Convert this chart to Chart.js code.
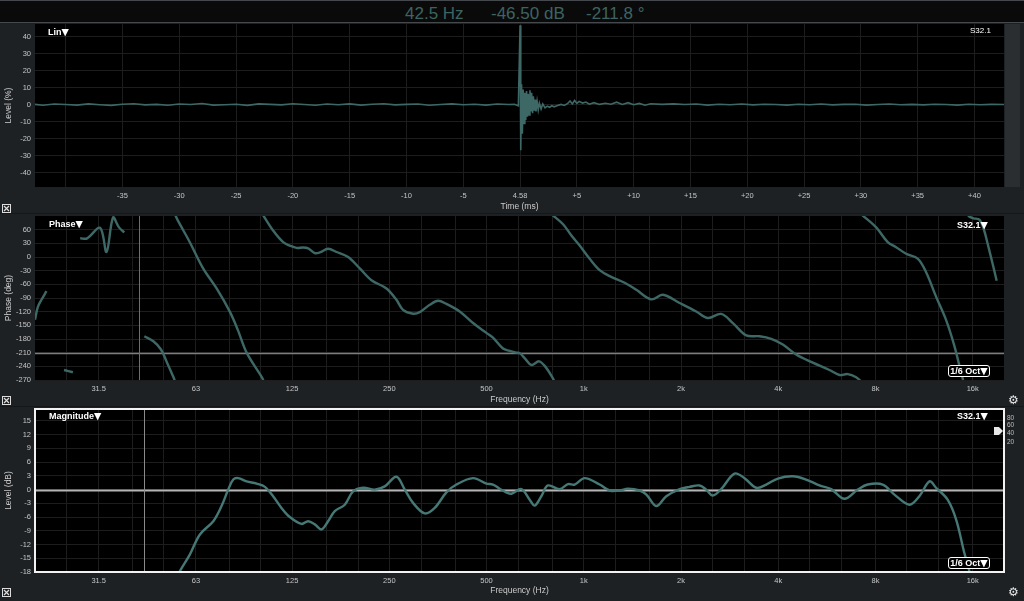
<!DOCTYPE html>
<html>
<head>
<meta charset="utf-8">
<title>Impulse / Phase / Magnitude</title>
<script src="https://cdn.jsdelivr.net/npm/chart.js@4.4.1/dist/chart.umd.min.js"></script>
<style>
    html, body { margin: 0; padding: 0; }
    body {
        width: 1024px; height: 601px; position: relative; overflow: hidden;
        background: #1e2124;
        font-family: "Liberation Sans", Arial, sans-serif;
    }
    canvas { position: absolute; left: 0; display: block; }
    #readout {
        position: absolute; left: 0; top: 0; width: 1024px; height: 23px; box-sizing: border-box;
        background: #0a0a0a; border-top: 1px solid #45494d; border-bottom: 1px solid #45494d;
    }
    .ro { position: absolute; top: 2px; font-size: 17px; line-height: 22px; color: #3d6462; white-space: nowrap; }
    .sep { position: absolute; left: 0; width: 1024px; height: 1px; background: #141618; }
    .tag { position: absolute; color: #fff; font-size: 9px; font-weight: bold; line-height: 10px; white-space: nowrap; }
    .tag.thin { font-weight: normal; font-size: 8px; }
    .tri { font-family: "DejaVu Sans", sans-serif; font-size: 9.5px; font-weight: normal; }
    .oct {
        position: absolute; width: 40px; height: 10px; box-sizing: content-box;
        border: 1.5px solid #fff; border-radius: 3px; background: #000;
        color: #fff; font-size: 9px; font-weight: bold; line-height: 10px; text-align: center; white-space: nowrap;
    }
    .gear { position: absolute; color: #e6e6e6; font-family: "DejaVu Sans", sans-serif; font-size: 12px; line-height: 12px; }
    .mini { position: absolute; left: 1007px; color: #bdbdbd; font-size: 6.5px; line-height: 7px; }
    #strip { position: absolute; left: 1005px; top: 24px; width: 15px; height: 163px; background: #2b2e31; }
    #flag {
        position: absolute; left: 994px; top: 427px; width: 9px; height: 8px; background: #e8e8e8;
        clip-path: polygon(0 0, 55% 0, 100% 50%, 55% 100%, 0 100%);
    }
    svg.xbox { position: absolute; left: 2px; }
</style>
</head>
<body>

<div id="readout">
    <span class="ro" style="left:405px">42.5 Hz</span>
    <span class="ro" style="left:491px">-46.50 dB</span>
    <span class="ro" style="left:586px">-211.8 °</span>
</div>

<div id="strip"></div>
<canvas id="impulse" width="1024" height="190" style="top:23px"></canvas>
<canvas id="phase" width="1024" height="193" style="top:213px"></canvas>
<canvas id="magnitude" width="1024" height="191" style="top:406px"></canvas>
<div class="sep" style="top:213px"></div>
<div class="sep" style="top:406px"></div>

<div class="tag" style="left:48px;top:27px">Lin<span class="tri">▼</span></div>
<div class="tag thin" style="left:970px;top:26px">S32.1</div>

<div class="tag" style="left:49px;top:219px">Phase<span class="tri">▼</span></div>
<div class="tag" style="left:957px;top:220px">S32.1<span class="tri">▼</span></div>
<div class="oct" style="left:948px;top:365px">1/6 Oct<span class="tri">▼</span></div>

<div class="tag" style="left:49px;top:411px">Magnitude<span class="tri">▼</span></div>
<div class="tag" style="left:957px;top:411px">S32.1<span class="tri">▼</span></div>
<div class="oct" style="left:948px;top:557px">1/6 Oct<span class="tri">▼</span></div>

<div class="mini" style="top:414px">80</div>
<div class="mini" style="top:421px">60</div>
<div class="mini" style="top:429px">40</div>
<div class="mini" style="top:438px">20</div>
<div id="flag"></div>

<div class="gear" style="left:1008px;top:394px">⚙</div>
<div class="gear" style="left:1008px;top:586px">⚙</div>

<svg class="xbox" style="top:204px" width="9" height="9"><rect x="0.5" y="0.5" width="8" height="8" fill="none" stroke="#ddd"/><path d="M2 2L7 7M7 2L2 7" stroke="#ddd" stroke-width="1.2"/></svg>
<svg class="xbox" style="top:396px" width="9" height="9"><rect x="0.5" y="0.5" width="8" height="8" fill="none" stroke="#ddd"/><path d="M2 2L7 7M7 2L2 7" stroke="#ddd" stroke-width="1.2"/></svg>
<svg class="xbox" style="top:588px" width="9" height="9"><rect x="0.5" y="0.5" width="8" height="8" fill="none" stroke="#ddd"/><path d="M2 2L7 7M7 2L2 7" stroke="#ddd" stroke-width="1.2"/></svg>

<script>
// ── Data ──────────────────────────────────────────────────────────────────

// impulse response, time relative to the peak at 4.58 ms
var impulseTimeMs = [
    -42.7, -42, -41, -40, -39, -38, -37, -36, -35, -34,
    -33, -32, -31, -30, -29, -28, -27, -26, -25, -24,
    -23, -22, -21, -20, -19, -18, -17, -16, -15, -14,
    -13, -12, -11, -10, -9, -8, -7, -6, -5, -4,
    -3, -2, -1, -0.5, -0.15, 0, 0.06, 0.13, 0.2, 0.27,
    0.35, 0.42, 0.5, 0.57, 0.65, 0.72, 0.8, 0.87, 0.95, 1.02,
    1.1, 1.17, 1.25, 1.32, 1.4, 1.5, 1.6, 1.7, 1.85, 2.0,
    2.2, 2.4, 2.6, 2.8, 3.0, 3.3, 3.6, 3.9, 4.2, 4.4,
    4.6, 4.8, 5.0, 5.2, 5.5, 5.8, 6.1, 6.5, 7.0, 7.5,
    8.0, 8.5, 9.0, 9.5, 10, 10.5, 11, 11.5, 12.5, 13.5,
    14.5, 15.5, 16.5, 17.5, 18.5, 19.5, 20.5, 21.5, 22.5, 23.5,
    24.5, 25.5, 26.5, 27.5, 28.5, 29.5, 30.5, 31.5, 32.5, 33.5,
    34.5, 35.5, 36.5, 37.5, 38.5, 39.5, 40.5, 41.5, 42.6
];
var impulseLevelPct = [
    0.2, -0.3, 0.4, 0.1, -0.2, 0.5, 0.0, -0.4, 0.3, 0.6,
    -0.1, 0.2, -0.3, 0.4, 0.1, 0.7, -0.2, 0.0, 0.3, -0.4,
    0.5, 0.2, -0.1, 0.6, 0.1, -0.3, 0.4, 0.0, 0.5, -0.2,
    0.3, 0.6, -0.1, 0.2, 0.4, -0.3, 0.1, 0.5, 0.0, 0.3,
    -0.2, 0.4, 0.1, 0.3, -0.6, 46.7, -26.8, 12, -17, 9,
    -11, 7, -9, 8, -7, 6.5, -6, 8.5, -4, 7,
    -5, 5, -3.5, 3, -4, 2, -3, 1, -2.5, 0.5,
    -1.8, -0.8, -1.5, -0.6, -1.2, -0.5, 0.2, -0.4, 0.8, 2.2,
    0.5, 2.5, 0.8, 2.0, 1.0, 1.6, 0.3, 1.2, 0.2, 0.9,
    0.3, 1.5, 0.2, 1.2, 0.0, 0.8, -0.3, 0.6, 0.2, 0.5,
    0.1, 0.4, -0.2, 0.3, 0.0, 0.4, -0.1, 0.3, 0.1, -0.2,
    0.3, 0.0, 0.4, -0.1, 0.2, 0.3, -0.2, 0.1, 0.4, 0.0,
    0.2, -0.1, 0.3, 0.1, -0.2, 0.3, 0.0, 0.2, 0.1
];
var timeTicks      = [-40, -35, -30, -25, -20, -15, -10, -5, 0, 5, 10, 15, 20, 25, 30, 35, 40];
var timeTickLabels = ['', '-35', '-30', '-25', '-20', '-15', '-10', '-5', '4.58',
                      '+5', '+10', '+15', '+20', '+25', '+30', '+35', '+40'];
var levelTicks     = [40, 30, 20, 10, 0, -10, -20, -30, -40];

// phase, wrapped to -270..90; null breaks the trace
var phaseFreqHz = [
    20, 20.4, 20.9, 21.7, 23,
    24.6, 26.2, 27,
    27.6, 29.0, 31.8, 33.3, 34.9, 36.4, 37.8, 40,
    43.6, 46.5, 49.1, 51.2, 53.6, 54.6, 54.4,
    54.2, 55.3, 60.3, 66.3, 73.0, 80.2, 84.9, 90.4, 100.6, 102.6, 102,
    101.4, 109.2, 117.3, 123.0, 129.1, 135.2, 140.2, 147.0, 152.3, 161.6, 171.6, 186.4,
    202.5, 220.1, 245.0, 263.0, 275.7, 296.1, 310.6, 333.6, 353.9, 375.6, 413.0, 454.1,
    499.4, 523.4, 562.2, 589.7, 618.6, 633.4, 660, 688.4, 726.7, 756.9, 799.4, 815, 808,
    800, 862.8, 915.7, 971.1, 1043, 1120, 1203, 1338, 1454, 1618, 1757, 1980, 2229, 2422,
    2663, 2895, 3184, 3501, 3804, 4133, 4545, 5118, 5761, 6188, 6567, 6971, 7300, 7280,
    7250, 8041, 8732, 9268, 9954, 10810, 11470, 12320, 13230, 14040, 14720, 15050, 15200,
    15450, 16100, 16780, 17300, 17800, 18400, 18980
];
var phaseDeg = [
    -138, -110, -95, -75, null,
    -248, -253, null,
    41, 41, 64, 11, 87, 65, 54, null,
    -174, -185, -203, -231, -263, -278, null,
    94, 81, 32.5, -25, -69, -120, -160, -210, -263, -276, null,
    93, 58, 32.5, 25, 20, 21, 19, 8.6, 10, 18, 11, 0,
    -25, -51, -69, -94, -116, -124.5, -121, -105, -96, -103, -119.5, -145,
    -166.5, -177, -201, -206, -210, -211, -224, -237, -229, -239, -264, -276, null,
    92, 72, 47, 25, -4, -29, -42, -56.5, -72, -93, -83, -101, -119.5, -134,
    -125, -145, -172, -174, -179.5, -192, -214, -232, -248, -259, -257, -264, -276, null,
    93, 65, 32.5, 21.6, 7, -3.6, -33, -87, -138, -195, -253, -278, null,
    90, 85, 82, 62, 29, -12, -52
];
var phaseTicks = [60, 30, 0, -30, -60, -90, -120, -150, -180, -210, -240, -270];

// magnitude, 1/6 octave smoothed
var magFreqHz = [
    54.5, 56.2, 60.3, 64.8, 71.3, 75.6, 79.3, 82.2, 85.1, 90.4,
    97.1, 103.0, 109.2, 115.9, 123.0, 133.7, 140.2, 147.0, 154.2, 161.6,
    169.5, 182.0, 193.1, 207.4, 225.3, 242.0, 263.0, 279.2, 296.1, 321.8,
    345.6, 375.6, 403.4, 454.1, 499.4, 523.4, 549, 575, 597, 641,
    680, 704.8, 738.9, 774.5, 842.1, 893.3, 936.9, 1006, 1120, 1203,
    1291, 1371, 1490, 1563, 1677, 1801, 1980, 2126, 2284, 2394,
    2509, 2663, 2929, 3146, 3419, 3672, 3988, 4436, 4880, 5367,
    5833, 6413, 7049, 7569, 8423, 9158, 10190, 10940, 11760, 12320,
    13380, 14210, 15070, 15620, 15900
];
var magDb = [
    -20, -17.8, -14.2, -9.8, -6.9, -3.6, 0, 2.2, 2.5, 1.8,
    1.3, 0.6, -1.45, -4, -6, -7.5, -6.9, -7.6, -8.7, -6.9,
    -4.7, -3.3, -0.4, 0.4, 0, 0.7, 2.8, 0, -2.9, -5.2,
    -4, -0.6, 1.1, 2.5, 1.3, 1.1, 0.2, -0.6, -0.9, 0.1,
    -2.2, -3.5, -1.45, 0.9, 0.1, 1.2, 1.1, 2.5, 1.1, -0.2,
    -0.2, 0.2, -0.2, -1.1, -3.6, -1.45, 0.1, 0.6, 0.9, 0,
    -1.3, 0.1, 3.5, 2.5, 0.4, 1.1, 2.4, 2.9, 2.2, 0.9,
    0.1, -2.0, 0, 1.1, 1.1, -1.1, -3.3, -1.45, 1.8, 0.4,
    -2.2, -6.5, -13.8, -17.8, -20.5
];
var magTicks = [15, 12, 9, 6, 3, 0, -3, -6, -9, -12, -15, -18];

var freqTicks = [25, 31.5, 40, 50, 63, 80, 100, 125, 160, 200, 250, 315, 400, 500, 630, 800,
                 1000, 1250, 1600, 2000, 2500, 3150, 4000, 5000, 6300, 8000, 10000, 12500, 16000];
var freqTickLabels = ['', '31.5', '', '', '63', '', '', '125', '', '', '250', '', '', '500', '', '',
                      '1k', '', '', '2k', '', '', '4k', '', '', '8k', '', '', '16k'];

// cursor readout lines
var phaseCursorHz = 42.1;
var phaseCursorDeg = -210;
var magCursorHz = 43.6;
var magRefDb = 0;

(function () {
    'use strict';

    var GRID  = '#1d1d1d';
    var TICK  = '#c4c4c4';
    var TITLE = '#cbcbcb';
    var TRACE = '#3e6866';

    Chart.defaults.font.family = '"Liberation Sans", Arial, sans-serif';

    // ── Plot background, cursor lines, selection frame ───────────────────────

    var plotDecor = {
        id: 'plotDecor',
        beforeDraw: function (chart) {
            var a = chart.chartArea, ctx = chart.ctx;
            ctx.save();
            ctx.fillStyle = '#000';
            ctx.fillRect(a.left, a.top, a.right - a.left, a.bottom - a.top);
            ctx.restore();
        },
        beforeDatasetsDraw: function (chart, args, opts) {
            var a = chart.chartArea, ctx = chart.ctx;
            ctx.save();
            (opts.hLines || []).forEach(function (l) {
                var py = Math.round(chart.scales.y.getPixelForValue(l.value)) + 0.5;
                ctx.strokeStyle = l.color;
                ctx.lineWidth = l.width;
                ctx.beginPath(); ctx.moveTo(a.left, py); ctx.lineTo(a.right, py); ctx.stroke();
            });
            (opts.vLines || []).forEach(function (l) {
                var px = Math.round(chart.scales.x.getPixelForValue(l.value)) + 0.5;
                ctx.strokeStyle = l.color;
                ctx.lineWidth = l.width;
                ctx.beginPath(); ctx.moveTo(px, a.top); ctx.lineTo(px, a.bottom); ctx.stroke();
            });
            ctx.restore();
        },
        afterDraw: function (chart, args, opts) {
            if (!opts.frame) return;
            var a = chart.chartArea, ctx = chart.ctx;
            ctx.save();
            ctx.strokeStyle = '#f2f2f2';
            ctx.lineWidth = 2;
            ctx.strokeRect(a.left, a.top, a.right - a.left, a.bottom - a.top);
            ctx.restore();
        }
    };

    // ── Scale builders ───────────────────────────────────────────────────────

    function fixedTicks(values) {
        return function (s) { s.ticks = values.map(function (v) { return { value: v }; }); };
    }

    function yScale(min, max, ticks, title) {
        return {
            type: 'linear', min: min, max: max,
            afterBuildTicks: fixedTicks(ticks),
            // fixed gutter, and no label overhang pushing the plot down
            afterFit: function (s) { s.width = 35; s.paddingTop = 0; s.paddingBottom = 0; },
            grid: { color: GRID, drawTicks: false },
            border: { display: false },
            ticks: {
                color: TICK, font: { size: 7.5 }, padding: 4, autoSkip: false,
                callback: function (v) { return String(v); }
            },
            title: { display: true, text: title, color: TITLE, font: { size: 8.5 }, padding: { top: 4, bottom: 1 } }
        };
    }

    function xScale(base, ticks, labels, title, height) {
        return Object.assign(base, {
            afterBuildTicks: fixedTicks(ticks),
            afterFit: function (s) { s.height = height; s.paddingLeft = 0; s.paddingRight = 0; },
            grid: { color: GRID, drawTicks: false },
            border: { display: false },
            ticks: {
                color: TICK, font: { size: 7.5 }, padding: 4, autoSkip: false, maxRotation: 0,
                callback: function (v, i) { return labels[i]; }
            },
            title: { display: true, text: title, color: TITLE, font: { size: 8.5 }, padding: { top: 4, bottom: 1 } }
        });
    }

    function points(xs, ys) {
        return xs.map(function (x, i) { return { x: x, y: ys[i] }; });
    }

    function makeChart(id, data, scales, decor, topPad, line) {
        return new Chart(document.getElementById(id).getContext('2d'), {
            type: 'line',
            data: {
                datasets: [Object.assign({
                    data: data,
                    borderColor: TRACE,
                    pointRadius: 0,
                    fill: false,
                    spanGaps: false
                }, line)]
            },
            options: {
                responsive: false,
                devicePixelRatio: 1,
                animation: false,
                events: [],
                layout: { padding: { top: topPad, right: 20, left: 0, bottom: 0 } },
                plugins: { legend: { display: false }, tooltip: { enabled: false }, plotDecor: decor },
                scales: scales
            },
            plugins: [plotDecor]
        });
    }

    // ── Impulse ──────────────────────────────────────────────────────────────

    makeChart('impulse', points(impulseTimeMs, impulseLevelPct), {
        x: xScale({ type: 'linear', min: -42.7, max: 42.6 }, timeTicks, timeTickLabels, 'Time (ms)', 26),
        y: yScale(-48.4, 47.5, levelTicks, 'Level (%)')
    }, {}, 1, { borderWidth: 1.6, tension: 0, clip: 0 });

    // ── Phase ────────────────────────────────────────────────────────────────

    makeChart('phase', points(phaseFreqHz, phaseDeg), {
        x: xScale({ type: 'logarithmic', min: 20, max: 20000 }, freqTicks, freqTickLabels, 'Frequency (Hz)', 26),
        y: yScale(-270, 90, phaseTicks, 'Phase (deg)')
    }, {
        hLines: [{ value: phaseCursorDeg, color: '#7d7d7d', width: 1.5 }],
        vLines: [{ value: phaseCursorHz, color: '#6e6e6e', width: 1 }]
    }, 3, { borderWidth: 2.4, tension: 0.35, clip: 0 });

    // ── Magnitude ────────────────────────────────────────────────────────────

    makeChart('magnitude', points(magFreqHz, magDb), {
        x: xScale({ type: 'logarithmic', min: 20, max: 20000 }, freqTicks, freqTickLabels, 'Frequency (Hz)', 25),
        y: yScale(-18, 17.6, magTicks, 'Level (dB)')
    }, {
        hLines: [{ value: magRefDb, color: '#b4b4b4', width: 2 }],
        vLines: [{ value: magCursorHz, color: '#8a8a8a', width: 1 }],
        frame: true
    }, 3, { borderWidth: 2.4, tension: 0.35, clip: 0, borderColor: '#467876' });

}());
</script>
</body>
</html>
